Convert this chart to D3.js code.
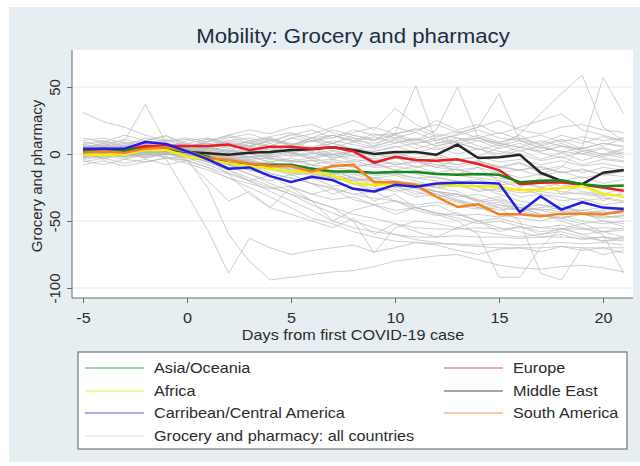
<!DOCTYPE html>
<html>
<head>
<meta charset="utf-8">
<script src="https://cdn.jsdelivr.net/npm/d3@7"></script>
<style>
  body { margin: 0; background: #fff; }
  text { font-family: "Liberation Sans", Arial, sans-serif; }
</style>
</head>
<body>
<div id="chart"></div>
<script>
// days from first case
const days = d3.range(-5, 22);
const xTicks = [-5, 0, 5, 10, 15, 20];
const yTicks = [50, 0, -50, -100];

// regional averages
const asiaOceania = [2,2,3,4,3,2,-2,-7,-8,-8,-8,-11,-13,-13,-14,-13.5,-13.5,-15,-15.5,-15,-15.5,-21,-20,-19.5,-22.5,-24,-23.5];
const africa = [0,-1,0,3,3,-2,-4,-7,-9,-11,-13,-13,-16,-22,-23,-23,-23,-23,-23.5,-24,-24.5,-27,-26.5,-25.5,-24,-29.5,-32];
const caribbean = [4,4,4,9,7.5,2,-4,-11,-10,-16.5,-21,-17,-19.5,-26,-28,-23,-24.5,-22,-21.5,-21.5,-22,-43.5,-31.5,-41.5,-36,-40,-41];
const europe = [3,4,3,6,6,6,6,7,3,5.5,5.5,4,5,2,-6.5,-2,-4.5,-5,-4,-7.5,-12,-22.5,-21.5,-21,-23,-25,-27.5];
const middleEast = [2.5,3,2,5,4,1.5,0.5,-0.5,1,1.5,3,3.5,5,3,0,1.5,1.5,-0.5,7,-3,-2.5,-0.5,-14,-20,-22.5,-14,-12];
const southAmerica = [1,2,1,4,5,2,-3,-4.5,-7,-9,-9,-13,-9,-8,-21,-21,-23,-32,-39.5,-37.5,-45,-45,-46.5,-44.5,-44.5,-45,-42.5];

// individual countries
const countries = [
  [2,4,3,6,-4,-30,-57,-89,-63,-70,-75,-72,-70,-68,-73,-70,-66,-68,-72,-75,-71,-70,-73,-69,-72,-70,-74],
  [0,-2,1,3,2,-4,-25,-60,-80,-94,-92,-90,-88,-87,-84,-80,-78,-76,-75,-79,-83,-85,-86,-84,-83,-85,-88],
  [31,24,20,14,10,6,4,2,0,-3,-5,-8,-10,-12,-15,-14,-18,-20,-22,-25,-28,-26,-30,-32,-35,-33,-36],
  [5,8,10,37,8,6,4,3,2,5,1,-2,0,-4,-6,-3,-5,-8,-10,-6,-9,-12,-10,-14,-12,-15,-13],
  [4,2,6,3,5,8,6,10,12,8,15,10,12,18,14,15,51,8,10,12,8,5,10,6,4,8,5],
  [2,3,1,4,6,3,5,2,8,6,4,10,8,12,6,15,10,18,50,12,8,5,2,6,3,0,4],
  [-2,0,3,1,-1,2,0,-3,1,4,-2,0,3,-1,2,5,8,10,15,20,45,10,5,2,0,-3,-5],
  [1,3,0,2,4,1,-2,0,3,-1,2,-4,0,-6,-3,-8,-5,-10,-4,-2,5,15,30,45,59,20,10],
  [3,1,4,2,0,5,3,1,-2,0,4,2,-1,3,0,-3,2,-2,-5,-8,-10,-6,-15,-10,5,57,30],
  [0,2,5,3,1,4,6,10,8,5,12,15,20,25,18,34,22,15,12,10,8,14,6,10,4,8,6],
  [0,-3,-1,2,0,-2,-5,-8,-12,-15,-18,-22,-25,-30,-28,-35,-40,-45,-50,-60,-92,-92,-70,-55,-60,-65,-62],
  [4,2,5,1,3,0,-2,-5,-4,-8,-10,-12,-15,-14,-18,-20,-22,-25,-28,-35,-40,-50,-89,-94,-70,-75,-72],
  [2,0,-2,1,-3,-5,-10,-15,-20,-25,-30,-35,-40,-50,-74,-55,-50,-52,-55,-58,-60,-62,-60,-58,-62,-65,-64],
  [1,3,2,0,4,2,0,-3,-6,-10,-8,-14,-12,-18,-20,-25,-22,-28,-30,-35,-32,-40,-45,-50,-55,-60,-89],
  [5,3,6,4,2,0,-5,-10,-15,-22,-28,-35,-40,-45,-48,-52,-55,-56,-56,-55,-56,-55,-55,-56,-56,-55,-56],
  [0,-2,1,-1,0,-3,-8,-14,-20,-28,-35,-42,-50,-55,-58,-60,-62,-62,-61,-62,-62,-63,-62,-62,-63,-62,-63],
  [2,4,1,3,0,-2,-6,-12,-18,-24,-30,-38,-44,-50,-55,-60,-64,-66,-68,-69,-70,-70,-70,-69,-70,-70,-70],
  [-3,-1,-4,0,-2,-5,-10,-18,-25,-32,-40,-48,-52,-58,-62,-65,-66,-67,-67,-68,-67,-68,-67,-66,-67,-66,-68],
  [6,4,8,5,7,3,2,-2,-5,-8,-10,-14,-12,-18,-20,-22,-25,-28,-30,-34,-38,-40,-42,-45,-44,-46,-48],
  [-5,-8,-4,-6,-3,-2,-6,-10,-8,-12,-15,-13,-18,-20,-24,-22,-26,-30,-35,-40,-45,-48,-50,-46,-50,-52,-50],
  [10,12,8,10,14,6,4,8,2,5,0,-3,2,-2,-5,-8,-6,-10,-12,-15,-18,-20,-25,-22,-28,-30,-26],
  [1,-1,3,2,5,4,1,0,-2,-4,-6,-5,-8,-10,-7,-12,-15,-18,-20,-24,-30,-35,-38,-40,-42,-40,-43],
  [3,5,2,4,1,0,-2,-1,-4,-3,-6,-5,-4,-7,-10,-9,-12,-14,-16,-18,-20,-22,-25,-28,-30,-32,-35],
  [8,10,6,12,9,11,7,12,15,10,14,18,12,16,20,15,18,22,16,20,25,18,15,20,22,18,16],
  [-2,2,0,4,2,6,8,5,10,6,12,9,14,10,8,12,16,10,14,18,12,10,8,14,10,6,12],
  [4,6,3,8,5,10,12,8,6,10,7,12,14,10,15,12,10,14,8,12,6,10,4,8,2,5,0],
  [0,3,1,-2,4,2,-1,3,0,-3,2,5,8,3,6,10,4,8,12,6,2,0,-5,-2,-8,-4,-6],
  [6,3,7,4,8,5,2,6,3,0,4,1,-2,2,-4,0,-6,-3,-8,-5,-10,-7,-12,-9,-14,-10,-12],
  [2,0,4,1,3,-1,-4,-8,-12,-16,-20,-18,-24,-22,-28,-26,-32,-30,-35,-38,-42,-40,-45,-48,-44,-50,-52],
  [-1,1,-3,0,2,-2,-5,-3,-8,-6,-12,-10,-15,-13,-18,-16,-20,-25,-22,-28,-26,-32,-30,-35,-33,-38,-36],
  [5,2,6,3,7,4,10,14,18,15,20,22,16,12,10,14,8,12,6,10,4,8,2,6,0,4,-2],
  [3,1,5,2,4,0,-4,-15,-30,-40,-25,-35,-50,-42,-38,-45,-40,-44,-46,-45,-47,-45,-46,-48,-45,-47,-46],
  [0,-4,2,-2,1,-5,-20,-35,-28,-40,-45,-50,-55,-48,-60,-52,-58,-62,-55,-50,-58,-54,-60,-56,-52,-58,-55],
  [7,5,9,6,4,2,0,-4,-2,-6,-10,-8,-14,-20,-18,-24,-30,-28,-34,-38,-36,-42,-40,-38,-44,-42,-40],
  [2,4,1,5,3,6,4,8,5,10,6,12,8,14,10,20,16,25,18,22,15,20,25,30,18,14,10],
  [-6,-3,-7,-4,-8,-5,-2,-6,-10,-8,-14,-12,-18,-15,-20,-22,-25,-28,-32,-30,-35,-40,-38,-42,-45,-48,-46],
  [4,8,3,10,6,4,12,6,3,8,0,5,-4,2,-8,-2,-10,-5,-15,-10,-20,-25,-18,-30,-22,-35,-28],
  [1,2,0,3,1,2,-2,-8,-15,-20,-15,-22,-30,-25,-35,-30,-40,-38,-45,-50,-55,-58,-62,-60,-64,-62,-65],
  [3,0,2,5,3,1,5,2,0,-2,-1,1,-3,-1,-5,-3,-4,-6,-8,-5,-10,-12,-9,-14,-11,-16,-13],
  [-2,1,4,0,6,3,1,-3,-6,-10,-14,-16,-18,-22,-26,-24,-28,-32,-36,-40,-38,-42,-46,-48,-52,-50,-54],
  [12,9,14,10,13,8,11,6,9,12,7,10,5,9,13,8,11,6,10,14,9,12,7,11,8,13,9],
  [-8,-5,-9,-6,-3,-7,-12,-18,-22,-26,-24,-30,-34,-32,-38,-42,-40,-44,-48,-52,-50,-54,-58,-56,-60,-58,-62],
  [3,6,2,5,8,4,2,0,-3,-1,-5,-3,-7,-5,-9,-6,-10,-8,-12,-10,-14,-12,-16,-13,-18,-15,-17],
  [-1,2,5,1,4,7,3,1,5,2,6,3,8,4,2,6,1,5,0,4,-2,3,-4,1,-5,0,-3],
  [5,7,4,9,6,3,1,-2,-6,-9,-12,-15,-17,-19,-21,-20,-23,-25,-24,-27,-26,-29,-28,-30,-29,-31,-30],
  [0,1,-2,2,0,-1,-3,-6,-5,-9,-11,-10,-13,-12,-16,-15,-18,-17,-21,-19,-23,-22,-20,-24,-22,-25,-24],
  [9,6,11,7,10,12,9,14,10,13,16,12,18,14,11,15,19,13,17,12,16,11,14,9,13,10,12],
  [2,-1,1,-3,0,3,-2,-5,-9,-14,-18,-22,-26,-30,-33,-35,-38,-36,-39,-41,-40,-42,-41,-43,-42,-44,-43],
  [4,1,3,0,2,5,8,4,6,3,1,4,0,2,-2,1,-3,0,-5,-2,-6,-4,-8,-5,-9,-7,-10],
  [-4,-2,0,-3,1,-1,-4,-8,-12,-10,-16,-14,-20,-17,-24,-28,-25,-32,-30,-36,-34,-38,-42,-40,-44,-43,-45],
  [7,9,5,8,11,7,4,9,6,11,8,5,10,7,4,8,12,6,9,3,7,2,6,1,5,-1,3],
  [1,3,6,2,0,-2,-1,-4,-2,-6,-3,-8,-5,-10,-7,-12,-9,-14,-11,-16,-13,-18,-15,-20,-17,-22,-19],
  [-3,0,-2,1,3,0,-6,-12,-20,-16,-25,-30,-26,-34,-38,-35,-42,-46,-44,-50,-48,-52,-55,-53,-56,-58,-57],
  [6,2,4,7,3,5,9,13,8,12,6,10,14,9,5,11,7,3,8,4,0,5,1,-3,2,-2,1]
];

const regions = [
  { name: "Asia/Oceania", values: asiaOceania, color: "#13891b" },
  { name: "Africa", values: africa, color: "#f2ee12" },
  { name: "Carribean/Central America", values: caribbean, color: "#1f1fe8" },
  { name: "Europe", values: europe, color: "#ec1c24" },
  { name: "Middle East", values: middleEast, color: "#262626" },
  { name: "South America", values: southAmerica, color: "#f58220" }
];
const drawOrder = ["Middle East", "Europe", "Asia/Oceania", "Africa", "South America", "Carribean/Central America"];

const W = 640, H = 466;
const stretch = 1.08; // text in the picture is a little wide
const svg = d3.select("#chart").append("svg")
  .attr("width", W)
  .attr("height", H);

// outer panel
svg.append("rect")
  .attr("x", 9).attr("y", 7)
  .attr("width", 631).attr("height", 455)
  .attr("fill", "#e7eef1");

const plot = { left: 72, top: 50, right: 633, bottom: 298 };

svg.append("rect")
  .attr("x", plot.left).attr("y", plot.top)
  .attr("width", plot.right - plot.left)
  .attr("height", plot.bottom - plot.top)
  .attr("fill", "#fff");

const x = d3.scaleLinear().domain([-5, 20]).range([83, 603]);
const y = d3.scaleLinear().domain([50, -100]).range([87, 288]);

// grid
svg.append("g")
  .selectAll("line")
  .data(yTicks)
  .enter()
  .append("line")
    .attr("x1", plot.left).attr("x2", plot.right)
    .attr("y1", d => y(d)).attr("y2", d => y(d))
    .attr("stroke", "#e4ebee")
    .attr("stroke-width", 1);

const line = d3.line()
  .defined(d => d != null)
  .x((d, i) => x(days[i]))
  .y(d => y(d));

// all countries
svg.append("g")
  .selectAll("path")
  .data(countries)
  .enter()
  .append("path")
    .attr("d", line)
    .attr("fill", "none")
    .attr("stroke", "#b8b8b8")
    .attr("stroke-opacity", 0.75)
    .attr("stroke-width", 0.9);

// regional lines
svg.append("g")
  .selectAll("path")
  .data(drawOrder.map(n => regions.find(r => r.name === n)))
  .enter()
  .append("path")
    .attr("d", d => line(d.values))
    .attr("fill", "none")
    .attr("stroke", d => d.color)
    .attr("stroke-width", 2.5)
    .attr("stroke-linejoin", "round");

// axes
const axisColor = "#6b6b6b";
const fmt = d => String(d); // plain hyphen minus, as in the picture
const yAxis = svg.append("g")
  .attr("transform", `translate(${plot.left},0)`)
  .call(d3.axisLeft(y).tickValues(yTicks).tickSize(5).tickFormat(fmt));
yAxis.select(".domain").attr("d", `M0,${plot.top}V${plot.bottom}`).attr("stroke", axisColor);
yAxis.selectAll(".tick line").attr("stroke", axisColor);
yAxis.selectAll(".tick text")
  .attr("x", 0).attr("dy", 0)
  .attr("transform", "translate(-12.5,0) rotate(-90)")
  .attr("text-anchor", "middle")
  .attr("font-size", 15)
  .attr("fill", "#2b2b2b")
  .attr("font-family", "Liberation Sans, Arial, sans-serif");

const xAxis = svg.append("g")
  .attr("transform", `translate(0,${plot.bottom})`)
  .call(d3.axisBottom(x).tickValues(xTicks).tickSize(5).tickFormat(fmt));
xAxis.select(".domain").attr("d", `M${plot.left},0H${plot.right}`).attr("stroke", axisColor);
xAxis.selectAll(".tick line").attr("stroke", axisColor);
xAxis.selectAll(".tick text")
  .attr("y", 0).attr("dy", 0)
  .attr("transform", `translate(0,24.5) scale(${stretch},1)`)
  .attr("font-size", 15)
  .attr("fill", "#2b2b2b")
  .attr("font-family", "Liberation Sans, Arial, sans-serif");

// titles
svg.append("text")
  .attr("transform", "translate(353,43) scale(1.14,1)")
  .attr("text-anchor", "middle")
  .attr("font-size", 19.5)
  .attr("fill", "#1e2d42")
  .text("Mobility: Grocery and pharmacy");

svg.append("text")
  .attr("transform", "translate(41.5,176) rotate(-90)")
  .attr("text-anchor", "middle")
  .attr("font-size", 15)
  .attr("fill", "#2b2b2b")
  .text("Grocery and pharmacy");

svg.append("text")
  .attr("transform", `translate(353,340) scale(${stretch},1)`)
  .attr("text-anchor", "middle")
  .attr("font-size", 15)
  .attr("fill", "#2b2b2b")
  .text("Days from first COVID-19 case");

// legend
svg.append("rect")
  .attr("x", 78).attr("y", 352)
  .attr("width", 549).attr("height", 97)
  .attr("fill", "#fff")
  .attr("stroke", "#5a5a5a")
  .attr("stroke-width", 1);

const legendItems = [
  { name: "Asia/Oceania", key: "#8ccb8e", col: 0, row: 0 },
  { name: "Africa", key: "#f3f27c", col: 0, row: 1 },
  { name: "Carribean/Central America", key: "#8b8bf0", col: 0, row: 2 },
  { name: "Grocery and pharmacy: all countries", key: "#e6e6e6", col: 0, row: 3 },
  { name: "Europe", key: "#f18a8e", col: 1, row: 0 },
  { name: "Middle East", key: "#8a8a8a", col: 1, row: 1 },
  { name: "South America", key: "#f6b98a", col: 1, row: 2 }
];
const colX = [85, 444];
const rowY = [368, 391, 413, 436];

const items = svg.append("g")
  .selectAll("g")
  .data(legendItems)
  .enter()
  .append("g")
    .attr("transform", d => `translate(${colX[d.col]},${rowY[d.row]})`);

items.append("line")
  .attr("x1", 0).attr("x2", 59)
  .attr("stroke", d => d.key)
  .attr("stroke-width", 1.6);

items.append("text")
  .attr("transform", `translate(69,5) scale(${stretch},1)`)
  .attr("font-size", 15)
  .attr("fill", "#2b2b2b")
  .text(d => d.name);
</script>
</body>
</html>
